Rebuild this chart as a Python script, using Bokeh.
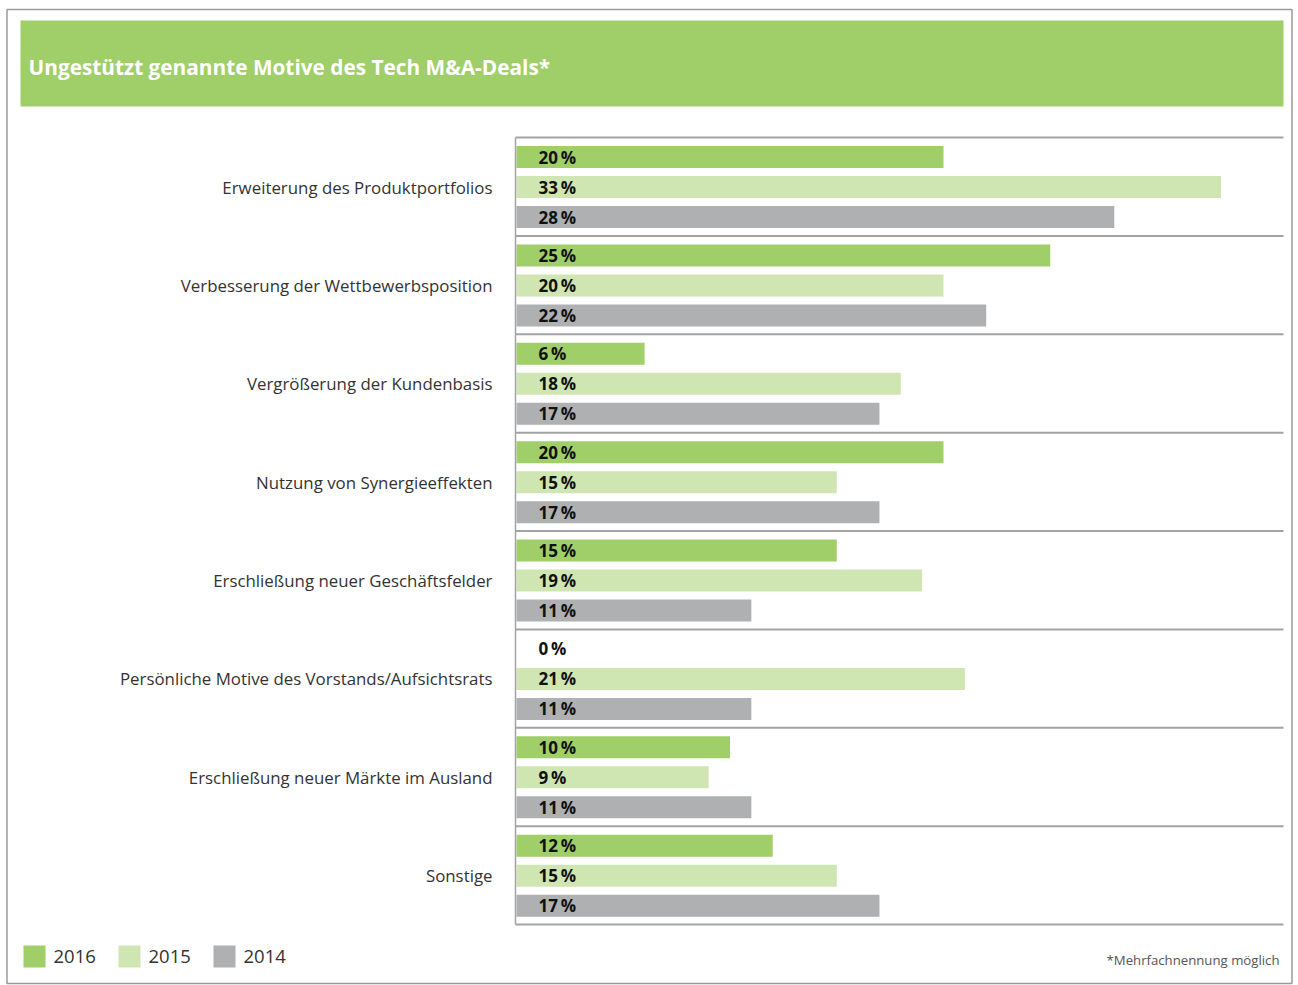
from bokeh.plotting import figure
from bokeh.models import Range1d, ColumnDataSource
from bokeh.core.properties import value
from bokeh.embed import file_html
from bokeh.resources import INLINE

# ---------------- data ----------------
categories = [
    "Erweiterung des Produktportfolios",
    "Verbesserung der Wettbewerbsposition",
    "Vergrößerung der Kundenbasis",
    "Nutzung von Synergieeffekten",
    "Erschließung neuer Geschäftsfelder",
    "Persönliche Motive des Vorstands/Aufsichtsrats",
    "Erschließung neuer Märkte im Ausland",
    "Sonstige",
]
years = ["2016", "2015", "2014"]
v2016 = [20, 25, 6, 20, 15, 0, 10, 12]
v2015 = [33, 20, 18, 15, 19, 21, 9, 15]
v2014 = [28, 22, 17, 17, 11, 11, 11, 17]
title_text = "Ungestützt genannte Motive des Tech M&A-Deals*"
footnote = "*Mehrfachnennung möglich"

# ---------------- styling / layout ----------------
W, H = 1298, 985
C_2016 = "#A0CE69"
C_2015 = "#CFE5B2"
C_2014 = "#AEB0B1"
colors = [C_2016, C_2015, C_2014]
FONT = "Open Sans"
AX_LEFT = 516          # pixel where 0 % sits
PX_PER_PCT = 21.35
PLOT_TOP, PLOT_BOTTOM, PLOT_RIGHT = 137, 924, 1283
GROUP_H = (PLOT_BOTTOM - PLOT_TOP) / len(categories)
BAR_OFFS = [19.5, 49.5, 79.5]
BAR_H = 22

p = figure(width=W, height=H, x_range=Range1d(0, W), y_range=Range1d(H, 0),
           min_border=0, toolbar_location=None, output_backend="svg")
p.extra_x_ranges = {"pct": Range1d(-AX_LEFT / PX_PER_PCT, (W - AX_LEFT) / PX_PER_PCT)}
p.axis.visible = False
p.grid.visible = False
p.outline_line_color = None
p.background_fill_color = "white"
p.border_fill_color = "white"

# outer border
p.rect(x=[W / 2], y=[(9 + 983) / 2], width=[1285], height=[974],
       fill_color=None, line_color="#9A9A9A", line_width=1.5)
# header band
p.quad(left=[20], right=[1283], top=[20], bottom=[106], fill_color=C_2016, line_color=None)
p.text(x=[28], y=[66], text=[title_text], text_color="white", text_font=value(FONT),
       text_font_style="bold", text_font_size="20.8px", text_baseline="middle", text_align="left")

# bars
for k, (yr, vals) in enumerate(zip(years, [v2016, v2015, v2014])):
    ys = [PLOT_TOP + i * GROUP_H + BAR_OFFS[k] for i in range(len(categories))]
    src = ColumnDataSource(dict(y=ys, v=vals, lab=[f"{v}\u2009%" for v in vals]))
    p.hbar(y="y", left=0, right="v", height=BAR_H, source=src, x_range_name="pct",
           fill_color=colors[k], line_color=None)
    p.text(x=538, y="y", text="lab", source=src, text_color="#111111", text_font=value(FONT),
           text_font_style="bold", text_font_size="17px", text_baseline="middle", text_align="left")

# separators and axis line
seps = [PLOT_TOP + i * GROUP_H for i in range(len(categories) + 1)]
p.segment(x0=[AX_LEFT - 1] * len(seps), x1=[PLOT_RIGHT] * len(seps), y0=seps, y1=seps,
          line_color="#A3A3A3", line_width=2)
p.segment(x0=[AX_LEFT - 1], x1=[AX_LEFT - 1], y0=[PLOT_TOP], y1=[PLOT_BOTTOM],
          line_color="#A3A3A3", line_width=1.5)

# category labels
p.text(x=[492] * len(categories), y=[PLOT_TOP + i * GROUP_H + 49.5 for i in range(len(categories))],
       text=categories, text_color="#333333", text_font=value(FONT), text_font_size="16.85px",
       text_baseline="middle", text_align="right")

# legend
leg_x = [23, 118, 213]
p.quad(left=leg_x, right=[x + 22 for x in leg_x], top=[945] * 3, bottom=[967] * 3,
       fill_color=colors, line_color=None)
p.text(x=[x + 30 for x in leg_x], y=[956] * 3, text=years, text_color="#333333",
       text_font=value(FONT), text_font_size="18.5px", text_baseline="middle", text_align="left")

# footnote
p.text(x=[1279], y=[959], text=[footnote], text_color="#555555", text_font=value(FONT),
       text_font_size="13.2px", text_baseline="middle", text_align="right")

open("out.html", "w").write(file_html(p, INLINE))
